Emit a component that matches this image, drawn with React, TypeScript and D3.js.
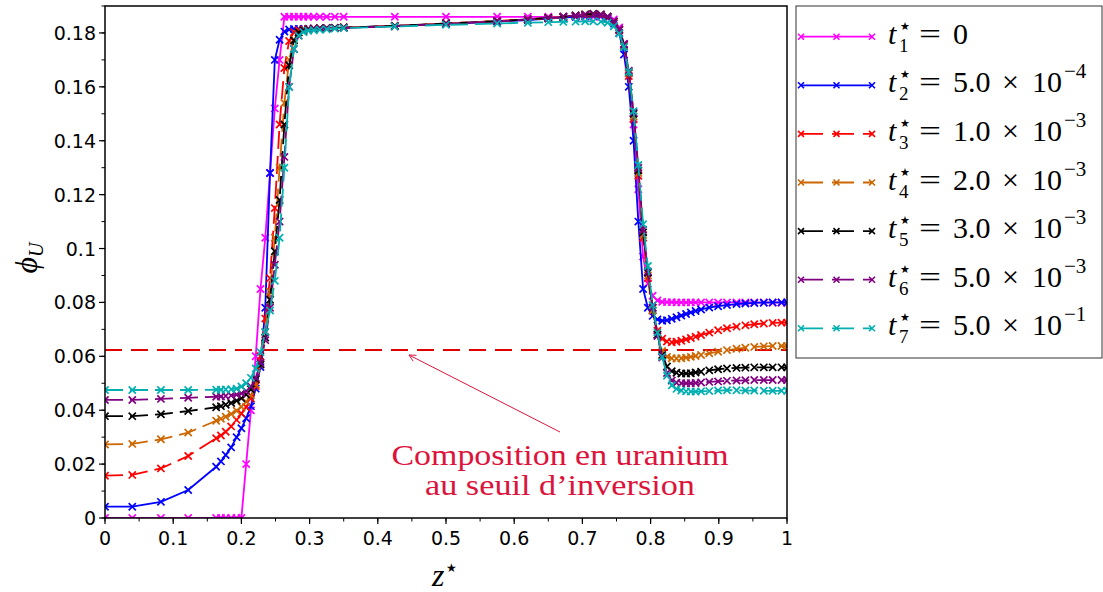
import React from "react";
import * as d3 from "d3";

// z* mesh positions (shared by all series)
const Z = [0, 0.04, 0.082, 0.122, 0.163, 0.17, 0.177, 0.185, 0.193, 0.2,
  0.207, 0.214, 0.221, 0.228, 0.235, 0.242, 0.249, 0.256, 0.263, 0.27,
  0.277, 0.284, 0.291, 0.298, 0.306, 0.315, 0.325, 0.337, 0.35, 0.425,
  0.5, 0.575, 0.62, 0.65, 0.672, 0.69, 0.704, 0.716, 0.727, 0.737,
  0.746, 0.754, 0.761, 0.768, 0.775, 0.782, 0.789, 0.796, 0.803, 0.81,
  0.817, 0.824, 0.831, 0.838, 0.845, 0.852, 0.859, 0.866, 0.874, 0.886,
  0.899, 0.912, 0.926, 0.939, 0.952, 0.966, 0.979, 0.992, 1.0];

const T1 = [0, 0, 0, 0, 0, 0, 0, 0, 0, 0,
  0.02, 0.04, 0.06, 0.085, 0.104, 0.128, 0.152, 0.17, 0.186, 0.186,
  0.186, 0.186, 0.186, 0.186, 0.186, 0.186, 0.186, 0.186, 0.186, 0.186,
  0.186, 0.186, 0.186, 0.186, 0.186, 0.186, 0.186, 0.186, 0.186, 0.186,
  0.185, 0.182, 0.176, 0.165, 0.146, 0.122, 0.097, 0.087, 0.0825, 0.0807,
  0.0802, 0.0801, 0.0801, 0.08, 0.08, 0.08, 0.08, 0.08, 0.08, 0.08,
  0.08, 0.08, 0.08, 0.08, 0.08, 0.08, 0.0799, 0.0799, 0.0799];

const T2 = [0.0042, 0.0042, 0.006, 0.0104, 0.019, 0.021, 0.0234, 0.0262, 0.03, 0.0333,
  0.037, 0.0415, 0.048, 0.056, 0.078, 0.128, 0.17, 0.1775, 0.1805, 0.1813,
  0.1815, 0.1815, 0.1815, 0.1816, 0.1817, 0.1818, 0.1818, 0.1819, 0.182, 0.1826,
  0.1834, 0.1842, 0.1848, 0.1853, 0.1857, 0.186, 0.1863, 0.1865, 0.1863, 0.1855,
  0.1835, 0.18, 0.172, 0.16, 0.14, 0.11, 0.085, 0.078, 0.075, 0.0737,
  0.0732, 0.0734, 0.0739, 0.0745, 0.0751, 0.0757, 0.0763, 0.0768, 0.0774, 0.0781,
  0.0786, 0.079, 0.0794, 0.0796, 0.0798, 0.0799, 0.08, 0.08, 0.08];

const T3 = [0.0157, 0.016, 0.0184, 0.023, 0.0296, 0.0306, 0.032, 0.034, 0.0364, 0.0388,
  0.0412, 0.0443, 0.049, 0.06, 0.074, 0.089, 0.115, 0.146, 0.167, 0.177,
  0.1803, 0.1811, 0.1813, 0.1815, 0.1816, 0.1817, 0.1818, 0.1819, 0.182, 0.1826,
  0.1835, 0.1844, 0.185, 0.1855, 0.1859, 0.1863, 0.1866, 0.1868, 0.1866, 0.1858,
  0.184, 0.181, 0.175, 0.164, 0.148, 0.127, 0.104, 0.089, 0.077, 0.0695,
  0.0665, 0.0655, 0.0652, 0.0654, 0.0658, 0.0663, 0.0668, 0.0673, 0.0679, 0.0688,
  0.0697, 0.0704, 0.071, 0.0715, 0.0719, 0.0722, 0.0724, 0.0725, 0.0725];

const T4 = [0.0273, 0.0275, 0.0292, 0.0317, 0.0361, 0.0368, 0.0376, 0.0386, 0.0398, 0.0413,
  0.0431, 0.0455, 0.0495, 0.057, 0.069, 0.084, 0.104, 0.13, 0.154, 0.17,
  0.1775, 0.1802, 0.1811, 0.1814, 0.1816, 0.1817, 0.1818, 0.1819, 0.182, 0.1826,
  0.1835, 0.1844, 0.185, 0.1856, 0.186, 0.1865, 0.1868, 0.187, 0.1868, 0.186,
  0.1842, 0.1812, 0.1755, 0.165, 0.149, 0.128, 0.105, 0.09, 0.077, 0.068,
  0.062, 0.0598, 0.0593, 0.0592, 0.0593, 0.0595, 0.0598, 0.0601, 0.0605, 0.0611,
  0.0617, 0.0623, 0.0628, 0.0632, 0.0635, 0.0637, 0.0638, 0.0638, 0.0638];

const T5 = [0.0378, 0.0378, 0.0385, 0.0397, 0.0411, 0.0415, 0.042, 0.0427, 0.0435, 0.0444,
  0.0458, 0.0478, 0.0515, 0.057, 0.067, 0.081, 0.099, 0.118, 0.146, 0.168,
  0.1772, 0.1802, 0.181, 0.1813, 0.1815, 0.1817, 0.1818, 0.1819, 0.182, 0.1826,
  0.1835, 0.1844, 0.185, 0.1856, 0.186, 0.1865, 0.1869, 0.1871, 0.1869, 0.186,
  0.1843, 0.1813, 0.1757, 0.1655, 0.15, 0.129, 0.106, 0.091, 0.078, 0.068,
  0.0605, 0.0562, 0.0545, 0.0539, 0.0536, 0.0536, 0.0537, 0.054, 0.0543, 0.0548,
  0.0552, 0.0555, 0.0557, 0.0558, 0.0559, 0.0559, 0.0559, 0.0559, 0.0559];

const T6 = [0.0438, 0.0438, 0.0442, 0.0446, 0.045, 0.0451, 0.0453, 0.0455, 0.0458, 0.0462,
  0.0471, 0.0488, 0.052, 0.0575, 0.066, 0.078, 0.094, 0.11, 0.134, 0.16,
  0.174, 0.179, 0.1805, 0.1811, 0.1814, 0.1816, 0.1817, 0.1818, 0.1819, 0.1825,
  0.1834, 0.1843, 0.185, 0.1855, 0.186, 0.1865, 0.1868, 0.187, 0.1868, 0.186,
  0.1843, 0.1813, 0.1758, 0.166, 0.1505, 0.13, 0.107, 0.0915, 0.078, 0.0675,
  0.0595, 0.0538, 0.051, 0.0502, 0.05, 0.05, 0.05, 0.0501, 0.0503, 0.0505,
  0.0507, 0.0509, 0.051, 0.0511, 0.0512, 0.0512, 0.0512, 0.0512, 0.0512];

const T7 = [0.0475, 0.0475, 0.0475, 0.0475, 0.0476, 0.0476, 0.0477, 0.0478, 0.048, 0.0488,
  0.05, 0.052, 0.0555, 0.0615, 0.069, 0.077, 0.088, 0.104, 0.13, 0.16,
  0.174, 0.179, 0.1803, 0.1808, 0.181, 0.1812, 0.1814, 0.1816, 0.1818, 0.1824,
  0.183, 0.1835, 0.1838, 0.184, 0.1841, 0.1842, 0.1843, 0.1843, 0.1842, 0.1838,
  0.1825, 0.1798, 0.1748, 0.1655, 0.151, 0.131, 0.109, 0.0935, 0.079, 0.0688,
  0.0598, 0.0528, 0.0492, 0.0479, 0.0473, 0.047, 0.0469, 0.0469, 0.047, 0.0471,
  0.0473, 0.0474, 0.0474, 0.0473, 0.0473, 0.0472, 0.0472, 0.0472, 0.0472];

const SERIES = [T1, T2, T3, T4, T5, T6, T7];
const SUBS = ["1", "2", "3", "4", "5", "6", "7"];
const MANTISSA = ["0", "5.0", "1.0", "2.0", "3.0", "5.0", "5.0"];
const EXPONENT = ["", "\u22124", "\u22123", "\u22123", "\u22123", "\u22123", "\u22121"];
const COLORS = ["#ff00ff", "#0000ff", "#ff0000", "#cc6600", "#000000", "#800080", "#00b0b0"];
const DASHED = [false, false, true, true, true, true, true];

const THRESHOLD = 0.0623;
const X_TICKS = [0, 0.1, 0.2, 0.3, 0.4, 0.5, 0.6, 0.7, 0.8, 0.9, 1];
const Y_TICKS = [0, 0.02, 0.04, 0.06, 0.08, 0.1, 0.12, 0.14, 0.16, 0.18];
const ANNOT = ["Composition en uranium", "au seuil d\u2019inversion"];

const W = 1103, H = 592;
const PL = 105, PR = 787, PT = 6, PB = 518;
const DASH = "18,7";
const TICK_FONT = "'DejaVu Sans', sans-serif";
const MATH_FONT = "'Liberation Serif', 'DejaVu Serif', serif";
const STAR_FONT = "'DejaVu Sans', sans-serif";
const STAR = "\u2605";

function Cross({ cx, cy, r, color, sw }: any) {
  return (
    <path d={`M${cx - r},${cy - r}L${cx + r},${cy + r}M${cx - r},${cy + r}L${cx + r},${cy - r}`}
      stroke={color} strokeWidth={sw} fill="none" />
  );
}

export default function App() {
  const x = d3.scaleLinear().domain([0, 1]).range([PL, PR]);
  const y = d3.scaleLinear().domain([0, 0.19]).range([PB, PT]);
  const line = d3.line<number>().x((_, i) => x(Z[i])).y((d) => y(d));

  const xMinor = d3.range(0, 1.0001, 0.05);
  const yMinor = d3.range(0, 0.19001, 0.01);

  const legendYs = SERIES.map((_, i) => 36.7 + i * 48.6);

  return (
    <svg width={W} height={H} style={{ position: "absolute", left: 0, top: 0, background: "#fff" }}>
      <defs>
        <clipPath id="plotclip">
          <rect x={PL} y={PT} width={PR - PL} height={PB - PT} />
        </clipPath>
      </defs>
      <rect x={0} y={0} width={W} height={H} fill="#fff" />

      <g clipPath="url(#plotclip)">
        <line x1={x(0)} x2={x(1)} y1={y(THRESHOLD)} y2={y(THRESHOLD)} stroke="#e00000" strokeWidth={2} strokeDasharray="17,9" />
        {SERIES.map((s, si) => (
          <g key={si}>
            <path d={line(s) || ""} fill="none" stroke={COLORS[si]} strokeWidth={1.8}
              strokeDasharray={DASHED[si] ? DASH : undefined} />
            {s.map((v, i) => (
              <Cross key={i} cx={x(Z[i])} cy={y(v)} r={3.6} color={COLORS[si]} sw={1.7} />
            ))}
          </g>
        ))}
      </g>

      {/* frame */}
      <rect x={PL} y={PT} width={PR - PL} height={PB - PT} fill="none" stroke="#000" strokeWidth={1.5} />

      {/* x ticks */}
      {xMinor.map((t, i) => (
        <line key={"xm" + i} x1={x(t)} x2={x(t)} y1={PB} y2={PB + 3.5} stroke="#000" strokeWidth={1} />
      ))}
      {X_TICKS.map((t) => (
        <g key={"x" + t}>
          <line x1={x(t)} x2={x(t)} y1={PB} y2={PB + 6} stroke="#000" strokeWidth={1.2} />
          <text x={x(t)} y={PB + 27} textAnchor="middle" fontFamily={TICK_FONT} fontSize={19}>{String(t)}</text>
        </g>
      ))}
      {/* y ticks */}
      {yMinor.map((t, i) => (
        <line key={"ym" + i} x1={PL - 3.5} x2={PL} y1={y(t)} y2={y(t)} stroke="#000" strokeWidth={1} />
      ))}
      {Y_TICKS.map((t) => (
        <g key={"y" + t}>
          <line x1={PL - 6} x2={PL} y1={y(t)} y2={y(t)} stroke="#000" strokeWidth={1.2} />
          <text x={PL - 9} y={y(t) + 7} textAnchor="end" fontFamily={TICK_FONT} fontSize={19}>{String(+t.toFixed(2))}</text>
        </g>
      ))}

      {/* axis labels */}
      <text x={432} y={586} fontFamily={MATH_FONT} fontSize={32} fontStyle="italic">z</text>
      <text x={446} y={572} fontFamily={STAR_FONT} fontSize={12}>{STAR}</text>
      <g transform="translate(37,258) rotate(-90)">
        <text textAnchor="middle" fontFamily={MATH_FONT} fontSize={32} fontStyle="italic">{"\u03D5"}
          <tspan fontSize={20} dy={6}>U</tspan>
        </text>
      </g>

      {/* annotation */}
      <line x1={560} y1={432} x2={409} y2={355} stroke="#dc143c" strokeWidth={1} />
      <path d="M416.5,355.3L409,355L413.2,361.2" fill="none" stroke="#dc143c" strokeWidth={1} />
      {ANNOT.map((t, i) => (
        <text key={i} x={560} y={465 + i * 30} textAnchor="middle" fontFamily={MATH_FONT} fontSize={30}
          fill="#dc143c" textLength={i === 0 ? 337 : 270} lengthAdjust="spacingAndGlyphs">{t}</text>
      ))}

      {/* legend */}
      <rect x={796} y={6} width={306} height={352} fill="#fff" stroke="#333" strokeWidth={1} />
      {SERIES.map((_, i) => {
        const ly = legendYs[i];
        return (
          <g key={"lg" + i}>
            <line x1={801} x2={872} y1={ly} y2={ly} stroke={COLORS[i]} strokeWidth={1.8}
              strokeDasharray={DASHED[i] ? "22,9" : undefined} />
            {[801, 836.5, 872].map((mx) => (
              <Cross key={mx} cx={mx} cy={ly} r={3} color={COLORS[i]} sw={1.6} />
            ))}
            <text x={888} y={ly + 7} fontFamily={MATH_FONT} fontSize={30} fontStyle="italic">t</text>
            <text x={900} y={ly - 7} fontFamily={STAR_FONT} fontSize={11}>{STAR}</text>
            <text x={899} y={ly + 15} fontFamily={MATH_FONT} fontSize={19}>{SUBS[i]}</text>
            <text x={919} y={ly + 7} fontFamily={MATH_FONT} fontSize={30} textLength={22} lengthAdjust="spacingAndGlyphs">=</text>
            <text x={953} y={ly + 7} fontFamily={MATH_FONT} fontSize={30}>{MANTISSA[i]}</text>
            {EXPONENT[i] !== "" && (
              <g>
                <text x={1002} y={ly + 7} fontFamily={MATH_FONT} fontSize={30}>{"\u00D7"}</text>
                <text x={1032} y={ly + 7} fontFamily={MATH_FONT} fontSize={30}>10</text>
                <text x={1064} y={ly - 7} fontFamily={MATH_FONT} fontSize={21}>{EXPONENT[i]}</text>
              </g>
            )}
          </g>
        );
      })}
    </svg>
  );
}
